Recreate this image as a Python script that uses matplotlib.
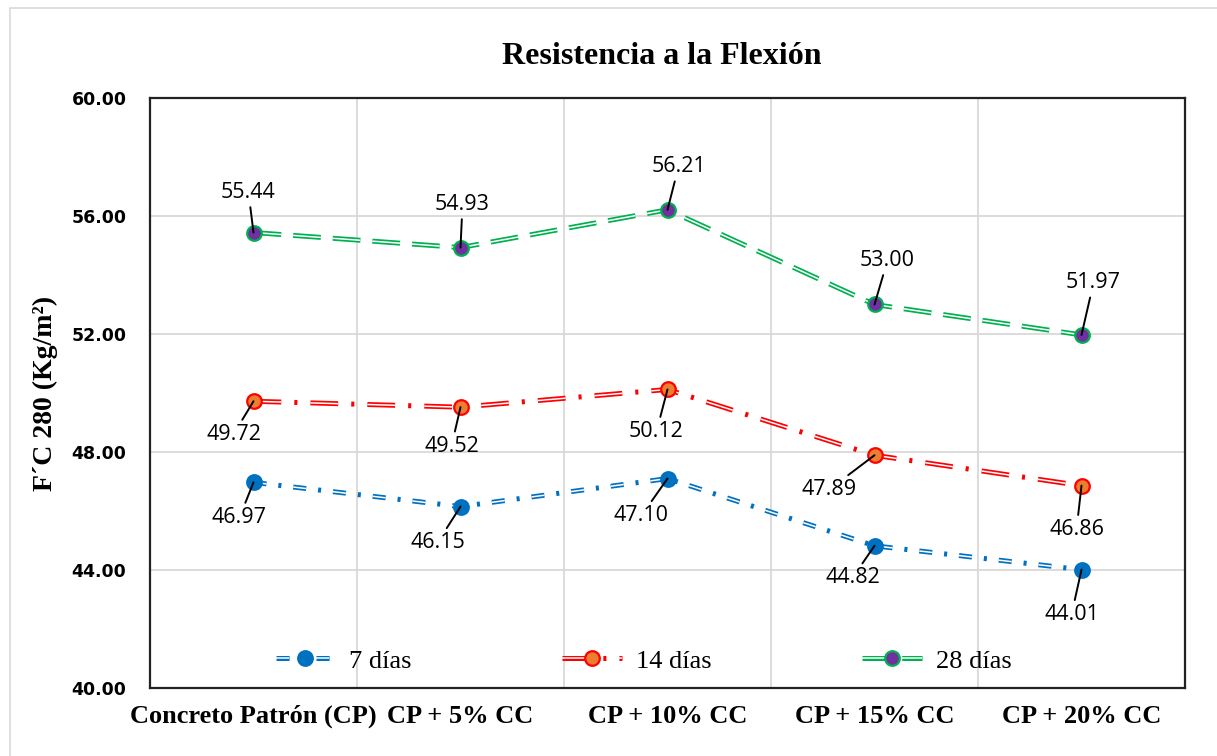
import matplotlib.pyplot as plt
import matplotlib.patches as mpatches
from matplotlib.lines import Line2D
from matplotlib.legend_handler import HandlerTuple

plt.rcParams['lines.scale_dashes'] = False

categories = ['Concreto Patrón (CP)', 'CP + 5% CC', 'CP + 10% CC', 'CP + 15% CC', 'CP + 20% CC']
dias_7 = [46.97, 46.15, 47.10, 44.82, 44.01]
dias_14 = [49.72, 49.52, 50.12, 47.89, 46.86]
dias_28 = [55.44, 54.93, 56.21, 53.00, 51.97]
series_names = ['7 días', '14 días', '28 días']

# label offsets in pixels (dx, dy) for each point
off_7 = [(-14, -35), (-23, -36), (-26, -37), (-22, -32), (-10, -45)]
off_14 = [(-20, -33), (-9, -39), (-11, -42), (-45, -34), (-5, -44)]
off_28 = [(-5, 40), (2, 43), (11, 43), (13, 44), (12, 52)]

W, H = 1217, 756
fig = plt.figure(figsize=(W / 100, H / 100), dpi=100)
ax = fig.add_axes([150 / W, 1 - 688 / H, 1035 / W, 590 / H])

# chart border
fig.patches.append(mpatches.Rectangle((10 / W, -0.05), 1.2, 1.05 - 8 / H, transform=fig.transFigure,
                                      fill=False, edgecolor='#d9d9d9', lw=1.2))

x = list(range(len(categories)))

styles = [
    # data, line color, outer dash, inner dash, marker face, marker edge
    (dias_7, '#0070C0', (0, (9.4, 8.6, 2.2, 8.6)), (0, (9.4, 19.4)), '#0070C0', '#0070C0'),
    (dias_14, '#FF0000', (0, (20, 9.4, 2.2, 9.4)), (0, (20, 21)), '#ED7D31', '#FF0000'),
    (dias_28, '#00B050', (0, (20, 8.6)), (0, (20, 8.6)), '#7030A0', '#00B050'),
]

handles = []
for data, col, ls_out, ls_in, mfc, mec in styles:
    ax.plot(x, data, color=col, lw=3.6, linestyle=ls_out, dash_capstyle='butt', zorder=3)
    ax.plot(x, data, color='white', lw=1.1, linestyle=ls_in, dash_capstyle='butt', zorder=4)
    ax.plot(x, data, 'o', ms=10.5, mfc=mfc, mec=mec, mew=1.6, zorder=5)
    h1 = Line2D([], [], color=col, lw=3.6, linestyle=ls_out, dash_capstyle='butt')
    h2 = Line2D([], [], color='white', lw=1.1, linestyle=ls_in, dash_capstyle='butt')
    h3 = Line2D([], [], marker='o', ms=10.5, mfc=mfc, mec=mec, mew=1.6, linestyle='none')
    handles.append((h1, h2, h3))

for data, offs in [(dias_7, off_7), (dias_14, off_14), (dias_28, off_28)]:
    for xi, v, (dx, dy) in zip(x, data, offs):
        ax.annotate(f'{v:.2f}', xy=(xi, v), xytext=(dx, dy), textcoords='offset pixels',
                    ha='center', va='center', fontsize=15.5, family='Open Sans', zorder=6,
                    arrowprops=dict(arrowstyle='-', color='black', lw=1.4, shrinkA=1, shrinkB=0))

ax.set_xlim(-0.5, 4.5)
ax.set_ylim(40, 60)
ax.set_yticks([40, 44, 48, 52, 56, 60])
ax.set_yticklabels([f'{t:.2f}' for t in [40, 44, 48, 52, 56, 60]],
                   fontsize=12.5, fontweight='bold', family='DejaVu Sans')
ax.set_xticks(x)
ax.set_xticklabels(categories, fontsize=19, fontweight='bold', family='Liberation Serif')
ax.set_xticks([0.5, 1.5, 2.5, 3.5], minor=True)
ax.tick_params(axis='both', which='both', length=0)
ax.tick_params(axis='x', pad=12)
ax.tick_params(axis='y', pad=17)
ax.grid(axis='y', which='major', color='#d9d9d9', lw=1.3)
ax.grid(axis='x', which='minor', color='#d9d9d9', lw=1.3)
ax.set_axisbelow(True)
for s in ax.spines.values():
    s.set_color('#222222')
    s.set_linewidth(1.6)

ax.set_ylabel('F´C 280 (Kg/m²)', fontsize=20, fontweight='bold', family='Liberation Serif')
ax.yaxis.set_label_coords(-(150 - 58) / 1035, 0.5)
fig.text(662 / W, 1 - 56 / H, 'Resistencia a la Flexión', ha='center', va='center',
         fontsize=23, fontweight='bold', family='Liberation Serif')

ax.legend(handles, series_names, handler_map={tuple: HandlerTuple(ndivide=1)},
          loc='center', bbox_to_anchor=(0.477, 0.046), ncol=3, frameon=False,
          prop={'family': 'Liberation Serif', 'size': 19}, handlelength=2.27,
          handletextpad=0.53, columnspacing=5.7)

fig.savefig('out.png', dpi=100)
